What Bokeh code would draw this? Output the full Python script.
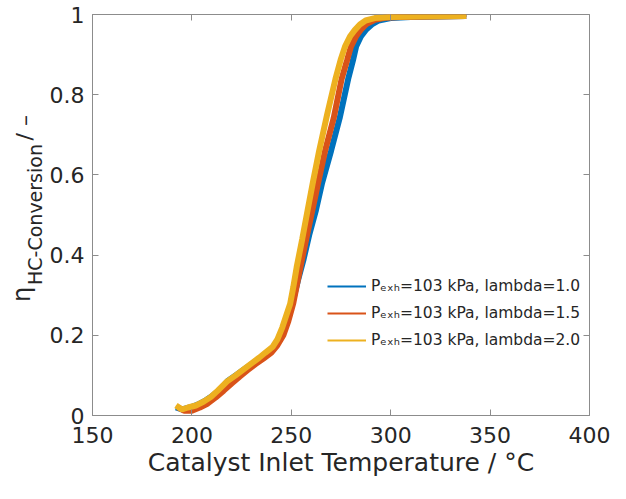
import numpy as np
from bokeh.plotting import figure
from bokeh.layouts import row
from bokeh.models import Range1d, LinearAxis, FixedTicker, Label, Legend, LegendItem
from bokeh.embed import file_html
from bokeh.resources import INLINE

# ---- data ----
temp_l10 = [192, 195, 199, 203, 207, 210, 214, 218, 222, 226, 230, 234, 238, 241, 244,
            246.5, 249, 251, 253.5, 256.2, 259, 262.4, 265.5, 270, 274.3, 278.6, 281,
            282.6, 285, 287.4, 290.5, 294, 300, 310, 338]
conv_l10 = [0.02, 0.015, 0.02, 0.027, 0.038, 0.048, 0.064, 0.086, 0.1, 0.114, 0.128,
            0.142, 0.155, 0.17, 0.19, 0.215, 0.25, 0.29, 0.34, 0.39, 0.45, 0.512, 0.58,
            0.66, 0.741, 0.839, 0.885, 0.92, 0.945, 0.961, 0.975, 0.985, 0.991, 0.994, 0.996]

temp_l15 = [193, 196, 200, 204, 208, 212, 216, 220, 224, 228, 232, 236, 240, 243, 246,
            248.5, 251, 253, 255, 257.5, 260.6, 263.5, 267, 271.3, 275.3, 278, 280,
            282.5, 285, 288, 292, 297, 305, 320, 338]
conv_l15 = [0.02, 0.012, 0.012, 0.02, 0.03, 0.045, 0.062, 0.08, 0.097, 0.113, 0.128,
            0.142, 0.157, 0.175, 0.2, 0.235, 0.28, 0.33, 0.38, 0.44, 0.512, 0.58, 0.66,
            0.741, 0.839, 0.885, 0.92, 0.945, 0.962, 0.977, 0.987, 0.992, 0.994, 0.995, 0.996]

temp_l20 = [192, 195, 198, 202, 206, 209.5, 213, 217.7, 222, 226, 230, 233.8, 237,
            240.6, 243, 245.5, 247.5, 249.4, 251, 252.7, 255.5, 258.2, 261, 264, 268,
            272.2, 275, 277, 279.5, 281.9, 284.5, 287.4, 292, 300, 315, 338]
conv_l20 = [0.025, 0.015, 0.02, 0.025, 0.035, 0.046, 0.062, 0.085, 0.1, 0.115, 0.13,
            0.144, 0.157, 0.171, 0.19, 0.22, 0.25, 0.278, 0.32, 0.37, 0.44, 0.512, 0.585,
            0.66, 0.75, 0.839, 0.89, 0.92, 0.945, 0.961, 0.975, 0.985, 0.991, 0.994, 0.995, 0.996]

series_labels = ["P\u2091\u2093\u2095=103 kPa, lambda=1.0",
                 "P\u2091\u2093\u2095=103 kPa, lambda=1.5",
                 "P\u2091\u2093\u2095=103 kPa, lambda=2.0"]
series_colors = ["#0072BD", "#D95319", "#EDB120"]

x_ticks = [150, 200, 250, 300, 350, 400]
y_ticks = [0, 0.2, 0.4, 0.6, 0.8, 1]
y_tick_labels = ["0", "0.2", "0.4", "0.6", "0.8", "1"]

x_title = "Catalyst Inlet Temperature / \u00b0C"
y_title_main = "\u03b7"
y_title_sub = "HC-Conversion"
y_title_unit = "/ \u2013"

FONT = "DejaVu Sans"
TXT = "#262626"
AX = "#8c8c8c"
H = 483
LEFT_W = 46

# ---------------- main plot ----------------
p = figure(width=610 - LEFT_W, height=H, x_range=Range1d(150, 400), y_range=Range1d(0, 1),
           output_backend="svg", toolbar_location=None,
           min_border_left=45, min_border_right=21, min_border_top=14, min_border_bottom=68)
p.background_fill_color = "white"
p.border_fill_color = "white"
p.outline_line_color = AX
p.outline_line_width = 1
p.xgrid.visible = False
p.ygrid.visible = False

xa = p.below[0]
ya = p.left[0]
xa.ticker = FixedTicker(ticks=x_ticks)
ya.ticker = FixedTicker(ticks=y_ticks)
ya.major_label_overrides = dict(zip(y_ticks, y_tick_labels))
for ax in (xa, ya):
    ax.axis_line_color = AX
    ax.major_tick_line_color = AX
    ax.major_tick_in = 6
    ax.major_tick_out = 0
    ax.minor_tick_line_color = None
    ax.major_label_text_font = FONT
    ax.major_label_text_font_size = "22px"
    ax.major_label_text_color = TXT
xa.major_label_standoff = 11
ya.major_label_standoff = 8
xa.axis_label = x_title
xa.axis_label_standoff = 2
xa.axis_label_text_font = FONT
xa.axis_label_text_font_size = "25px"
xa.axis_label_text_font_style = "normal"
xa.axis_label_text_color = TXT

top_ax = LinearAxis(ticker=FixedTicker(ticks=x_ticks))
right_ax = LinearAxis(ticker=FixedTicker(ticks=y_ticks))
for ax, ticks in ((top_ax, x_ticks), (right_ax, y_ticks)):
    ax.axis_line_color = None
    ax.major_tick_line_color = AX
    ax.major_tick_in = 6
    ax.major_tick_out = 0
    ax.minor_tick_line_color = None
    ax.major_label_text_font_size = "0px"
    ax.major_label_overrides = {t: "" for t in ticks}
    ax.major_label_standoff = 0
p.add_layout(top_ax, "above")
p.add_layout(right_ax, "right")

items = []
for T, c, col, lab in zip([temp_l10, temp_l15, temp_l20],
                          [conv_l10, conv_l15, conv_l20],
                          series_colors, series_labels):
    p.line(T, c, line_color=col, line_width=6)
    r = p.line(T, c, line_color=col, line_width=2)
    items.append(LegendItem(label=lab, renderers=[r]))

legend = Legend(items=items, location=(230, 60), padding=5, margin=0, spacing=7,
                glyph_width=39, glyph_height=20, label_height=20, label_standoff=5,
                label_text_font=FONT, label_text_font_size="15.5px",
                label_text_color=TXT, border_line_alpha=0, background_fill_alpha=0)
p.add_layout(legend)

# ---------------- strip carrying the y-axis title ----------------
# (its frame is aligned with the main frame by the row layout)
t = figure(width=LEFT_W, height=H, x_range=Range1d(0, 1), y_range=Range1d(0, 1),
           x_axis_type=None, y_axis_type=None, output_backend="svg",
           toolbar_location=None, min_border=0)
t.outline_line_color = None
t.background_fill_color = "white"
t.border_fill_color = "white"
t.add_layout(Label(x=21, y=121, x_units="screen", y_units="screen", text=y_title_main,
                   angle=np.pi / 2, text_align="center", text_baseline="middle",
                   text_font=FONT, text_font_size="24px", text_color=TXT))
t.add_layout(Label(x=34, y=201, x_units="screen", y_units="screen", text=y_title_sub,
                   angle=np.pi / 2, text_align="center", text_baseline="middle",
                   text_font=FONT, text_font_size="19px", text_color=TXT))
t.add_layout(Label(x=24, y=275, x_units="screen", y_units="screen", text=y_title_unit,
                   angle=np.pi / 2, text_align="left", text_baseline="middle",
                   text_font=FONT, text_font_size="22px", text_color=TXT))

layout = row(t, p)
open("out.html", "w").write(file_html(layout, INLINE))
